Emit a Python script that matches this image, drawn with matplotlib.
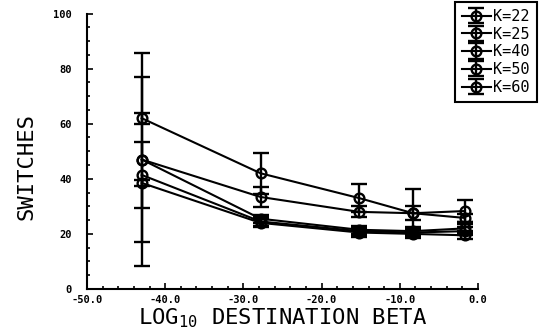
import matplotlib
matplotlib.use('Agg')
import matplotlib.pyplot as plt
from matplotlib.ticker import MultipleLocator

# log10 of destination beta
beta = [-43.0, -27.8, -15.2, -8.3, -1.7]

# Mittelwerte der Umschaltungen je K
labels = ['K=22', 'K=25', 'K=40', 'K=50', 'K=60']
switches = [
    [62.0, 42.0, 33.0, 27.5, 28.3],
    [47.0, 33.4, 28.0, 27.5, 25.8],
    [47.0, 25.5, 21.5, 21.0, 22.0],
    [41.4, 24.5, 21.0, 20.5, 21.0],
    [38.5, 24.0, 20.5, 20.0, 19.5],
]
# Fehlerbalken (halbe Breite)
errors = [
    [2.0, 7.5, 5.0, 8.7, 4.0],
    [38.5, 3.6, 2.0, 2.5, 1.5],
    [30.0, 1.5, 1.5, 1.5, 1.5],
    [12.0, 1.5, 1.5, 1.5, 1.5],
    [1.0, 1.5, 1.5, 1.5, 1.5],
]

mono = 'DejaVu Sans Mono'

fig = plt.figure(figsize=(5.4, 3.3), dpi=100)
ax = fig.add_axes([87/540, 1-289/330, (478-87)/540, (289-13.5)/330])

for lab, y, e in zip(labels, switches, errors):
    ax.errorbar(beta, y, yerr=e, fmt='-o', color='black', mfc='none',
                mec='black', ms=7, mew=1.7, lw=1.5, elinewidth=1.7,
                capsize=5.5, capthick=1.7, label=lab)

ax.set_xlim(-50, 0)
ax.set_ylim(0, 100)
ax.xaxis.set_major_locator(MultipleLocator(10))
ax.xaxis.set_minor_locator(MultipleLocator(2))
ax.yaxis.set_major_locator(MultipleLocator(20))
ax.yaxis.set_minor_locator(MultipleLocator(5))
ax.set_xticklabels([f'{v:.1f}' for v in ax.get_xticks()])
ax.set_yticklabels([f'{int(v)}' for v in ax.get_yticks()])

for s in ['top', 'right']:
    ax.spines[s].set_visible(False)
for s in ['left', 'bottom']:
    ax.spines[s].set_linewidth(1.5)

ax.tick_params(which='both', direction='in', width=1.2)
ax.tick_params(which='major', length=4.5)
ax.tick_params(which='minor', length=2.5)
ax.tick_params(axis='y', which='major', pad=11)
ax.tick_params(axis='x', which='major', pad=4)
for t in ax.get_xticklabels() + ax.get_yticklabels():
    t.set_fontfamily(mono)
    t.set_fontweight('bold')
    t.set_fontsize(7.5)

ax.set_xlabel(r'LOG$_{\mathtt{10}}$ DESTINATION BETA', fontfamily=mono,
              fontsize=16, labelpad=1)
fig.text(26/540, 1-166/330, 'SWITCHES', rotation=90, fontfamily=mono,
         fontsize=16, ha='center', va='center')

# Legende ragt rechts über den Bildrand hinaus (wie im Original)
leg = fig.legend(loc='upper left', bbox_to_anchor=(455/540, 1-2/330),
                 bbox_transform=fig.transFigure, borderaxespad=0,
                 prop={'family': mono, 'size': 11}, frameon=True,
                 fancybox=False, framealpha=1, edgecolor='black',
                 borderpad=0.45, handlelength=1.9, handletextpad=0.15,
                 labelspacing=0.18)
leg.get_frame().set_linewidth(1.5)

plt.savefig('out.png', dpi=100)
